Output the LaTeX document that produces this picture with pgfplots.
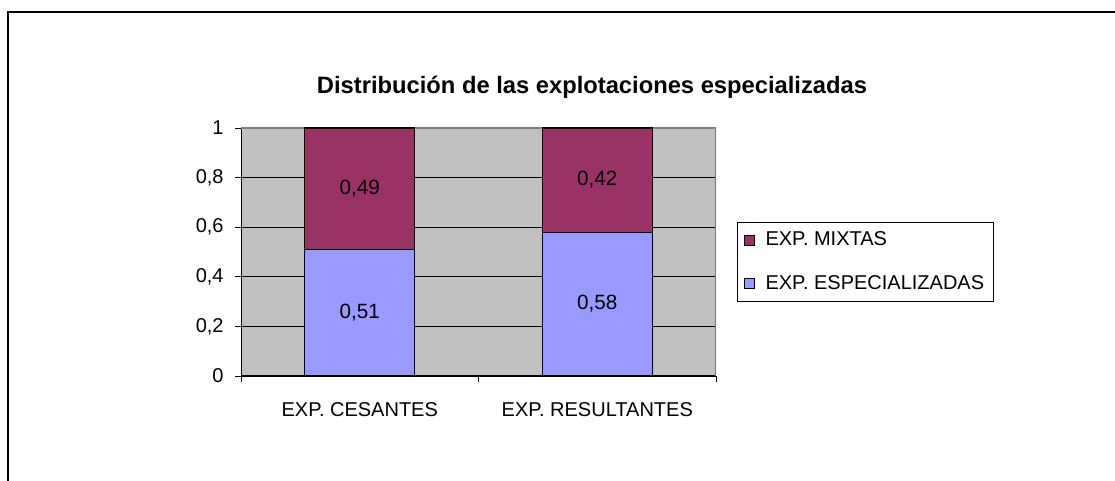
\documentclass[border=0pt]{standalone}
\usepackage{pgfplots}
\pgfplotsset{compat=1.18}
\usepackage{fontspec}
\setmainfont{Liberation Sans}
\definecolor{plotgray}{HTML}{C0C0C0}
\definecolor{framegray}{HTML}{808080}
\definecolor{espec}{HTML}{9999FF}
\definecolor{mixtas}{HTML}{993366}

\pgfplotsset{
  sq legend/.style={legend image code/.code={
    \draw[##1, draw=black, line width=0.6pt] (0pt,-3.75pt) rectangle (7.5pt,3.75pt);}},
}

\begin{document}
\begin{tikzpicture}
% picture is 1115 x 481 px, 1 px = 0.75pt
\useasboundingbox (0pt,0pt) rectangle (836.25pt,360.75pt);
\draw[line width=1.5pt] (6pt,0pt) -- (6pt,351.75pt) -- (836.25pt,351.75pt);
\node[font=\fontsize{17.8}{20}\selectfont\bfseries] at (444pt,295.5pt)
  {Distribución de las explotaciones especializadas};
\begin{axis}[
  at={(180.75pt,78.75pt)}, anchor=south west,
  width=356.25pt, height=186pt, scale only axis,
  ybar stacked, bar width=82.5pt,
  xmin=-0.5, xmax=1.5, ymin=0, ymax=1,
  axis x line*=bottom, axis y line*=left,
  axis line style={black, line width=0.75pt},
  axis background/.style={fill=plotgray},
  tick align=outside, major tick length=4.5pt,
  tick style={black, line width=0.6pt},
  ytick={0,0.2,0.4,0.6,0.8,1},
  ymajorgrids, grid style={black, line width=0.6pt},
  xtick={-0.5,0.5,1.5}, xticklabels={},
  extra x ticks={0,1},
  extra x tick labels={EXP. CESANTES, EXP. RESULTANTES},
  extra x tick style={major tick length=0pt, grid=none,
    xticklabel style={yshift=-16pt}},
  /pgf/number format/use comma,
  /pgf/number format/assume math mode=true,
  tick label style={font=\fontsize{15}{17}\selectfont, text=black},
  yticklabel style={xshift=-5pt},
  nodes near coords,
  visualization depends on=rawy \as \rawy,
  every node near coord/.append style={anchor=center, text=black,
    font=\fontsize{15.5}{17}\selectfont,
    /pgf/number format/fixed, /pgf/number format/fixed zerofill,
    /pgf/number format/precision=2,
    shift={(axis direction cs:0,0)}},
  reverse legend,
  legend style={at={(1.044,0.46)}, anchor=west, draw=black, line width=0.75pt,
    font=\fontsize{15}{17}\selectfont, fill=white,
    inner xsep=5pt, inner ysep=5pt, row sep=17pt,
    /tikz/every odd column/.append style={column sep=6pt},
    cells={anchor=west}},
]
\addplot[fill=espec, draw=black, line width=0.9pt, sq legend] coordinates {(0,0.51) (1,0.58)};
\addplot[fill=mixtas, draw=black, line width=0.9pt, sq legend] coordinates {(0,0.49) (1,0.42)};
\legend{EXP. ESPECIALIZADAS, EXP. MIXTAS}
\draw[framegray, line width=1.5pt] (rel axis cs:0,1) -- (rel axis cs:1,1) -- (rel axis cs:1,0);
\end{axis}
\end{tikzpicture}
\end{document}
